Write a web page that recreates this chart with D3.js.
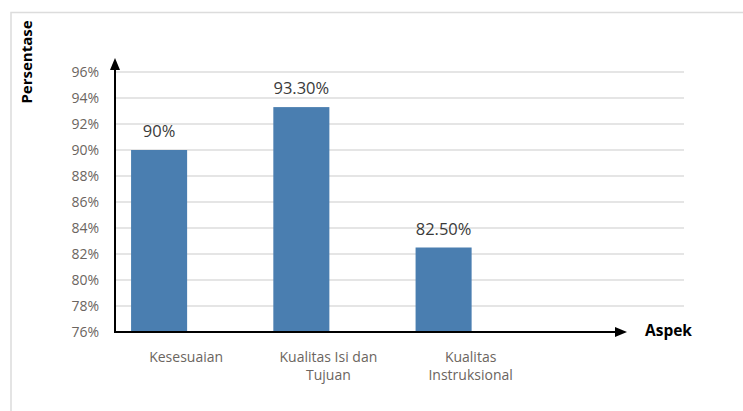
<!DOCTYPE html>
<html><head><meta charset="utf-8">
<script src="https://cdn.jsdelivr.net/npm/d3@7/dist/d3.min.js"></script>
<style>html,body{margin:0;padding:0;background:#fff;}svg{display:block;}</style>
</head><body>
<svg id="c" width="743" height="411"></svg>
<script>
const categories = ["Kesesuaian", "Kualitas Isi dan|Tujuan", "Kualitas|Instruksional"];
const values = [0.90, 0.933, 0.825];
const valueLabels = ["90%", "93.30%", "82.50%"];
const yTicks = [0.76, 0.78, 0.80, 0.82, 0.84, 0.86, 0.88, 0.90, 0.92, 0.94, 0.96];
const yTitle = "Persentase";
const xTitle = "Aspek";

(function () {
const svg = d3.select("#c");
const font = "'Open Sans', sans-serif";

// outer frame
svg.append("rect").attr("x", 11).attr("y", 12.5).attr("width", 800).attr("height", 500)
  .attr("fill", "none").attr("stroke", "#dcdcdc").attr("stroke-width", 1.5);

const mLeft = 115, plotRight = 684, mBottom = 332, mTop = 72;
const y = d3.scaleLinear().domain([0.76, 0.96]).range([mBottom, mTop]);
const slotW = (plotRight - mLeft) / 4;
const x = d3.scaleBand().domain(categories).range([mLeft, mLeft + slotW * categories.length]).padding(0);

// gridlines
svg.append("g").selectAll("line").data(yTicks.slice(1)).join("line")
  .attr("x1", mLeft).attr("x2", plotRight)
  .attr("y1", d => y(d)).attr("y2", d => y(d))
  .attr("stroke", "#dcdcdc").attr("stroke-width", 1.5);

// tick labels
svg.append("g").selectAll("text").data(yTicks).join("text")
  .attr("x", 99).attr("y", d => y(d)).attr("dy", "0.35em")
  .attr("text-anchor", "end").attr("font-family", font).attr("font-size", 14)
  .attr("fill", "#6b6560").text(d => d3.format(".0%")(d));

// bars
const bw = x.bandwidth();
svg.append("g").selectAll("rect").data(categories).join("rect")
  .attr("x", d => x(d) + bw * 0.113)
  .attr("width", bw * 0.394)
  .attr("y", (d, i) => y(values[i]))
  .attr("height", (d, i) => y(0.76) - y(values[i]))
  .attr("fill", "#4a7eb0");

// value labels
svg.append("g").selectAll("text").data(categories).join("text")
  .attr("x", d => x(d) + bw * 0.31)
  .attr("y", (d, i) => y(values[i]) - 13)
  .attr("text-anchor", "middle").attr("font-family", font).attr("font-size", 16.5)
  .attr("fill", "#3a3a3a").text((d, i) => valueLabels[i]);

// category labels
const cg = svg.append("g");
categories.forEach(c => {
  const lines = c.split("|");
  const t = cg.append("text").attr("text-anchor", "middle").attr("font-family", font)
    .attr("font-size", 14).attr("fill", "#6b6560");
  lines.forEach((l, j) => {
    t.append("tspan").attr("x", x(c) + bw / 2).attr("y", 362 + j * 18).text(l);
  });
});

// axes with arrows
svg.append("line").attr("x1", mLeft).attr("y1", mBottom).attr("x2", mLeft).attr("y2", 68)
  .attr("stroke", "#000").attr("stroke-width", 2);
svg.append("path").attr("d", `M${mLeft},58 L${mLeft - 5},70 L${mLeft + 5},70 Z`).attr("fill", "#000");
svg.append("line").attr("x1", mLeft - 1).attr("y1", mBottom).attr("x2", 617).attr("y2", mBottom)
  .attr("stroke", "#000").attr("stroke-width", 2);
svg.append("path").attr("d", `M627,${mBottom} L615,${mBottom - 5} L615,${mBottom + 5} Z`).attr("fill", "#000");

// titles
svg.append("text").attr("transform", "translate(32,62) rotate(-90)")
  .attr("text-anchor", "middle").attr("font-family", font).attr("font-weight", "bold")
  .attr("font-size", 15).attr("fill", "#000").text(yTitle);
svg.append("text").attr("x", 645).attr("y", 336)
  .attr("font-family", font).attr("font-weight", "bold")
  .attr("font-size", 15.5).attr("fill", "#000").text(xTitle);
})();
</script>
</body></html>
